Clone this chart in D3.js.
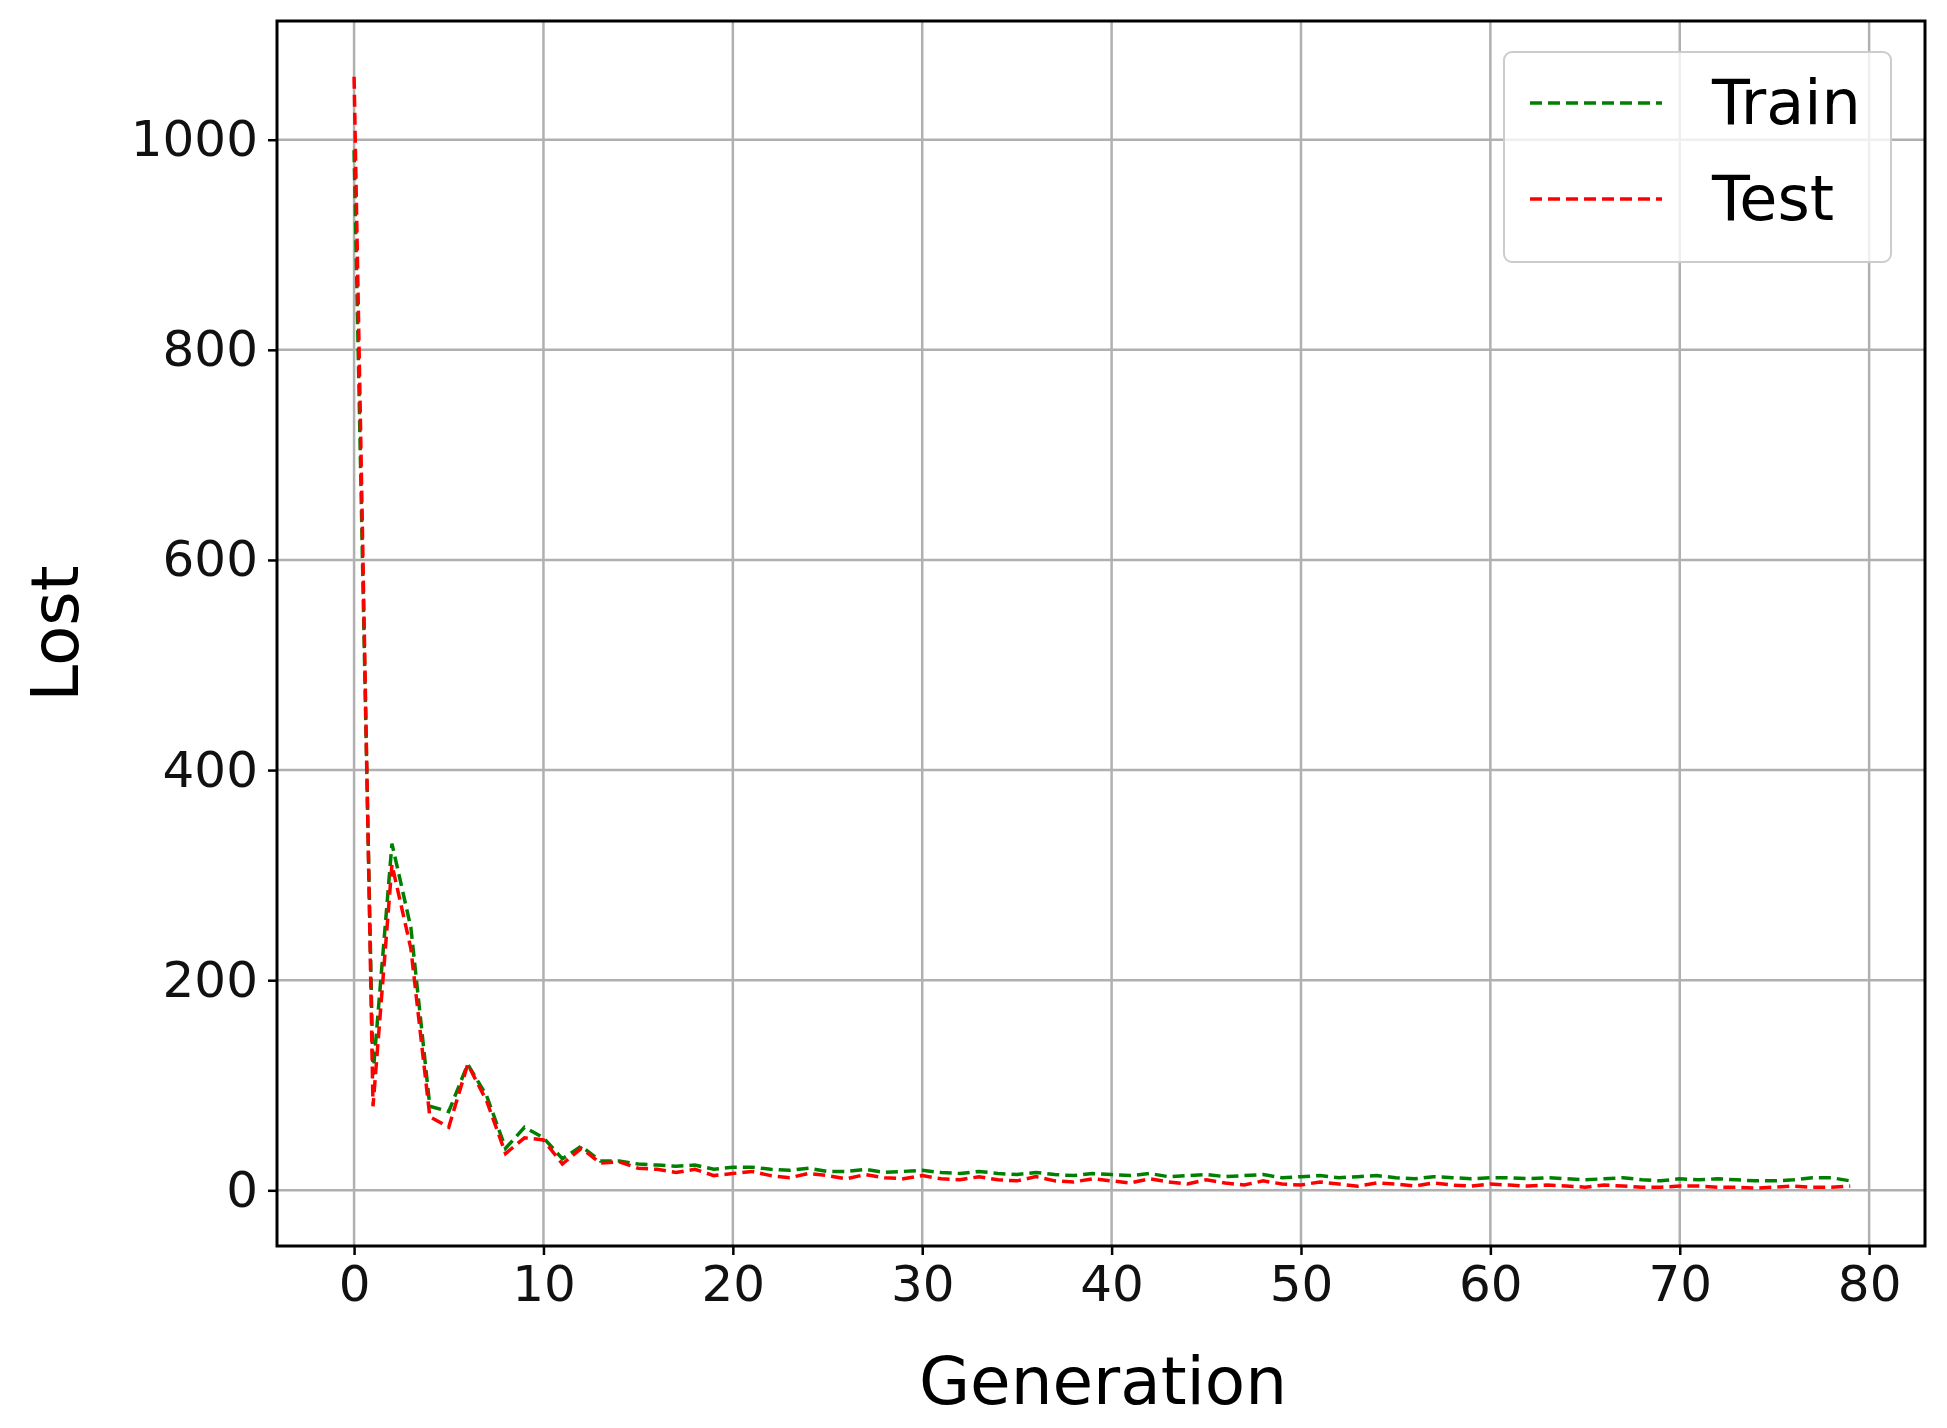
<!DOCTYPE html>
<html><head><meta charset="utf-8">
<script src="https://cdn.jsdelivr.net/npm/d3@7"></script>
<style>body{margin:0;background:#fff}text{font-family:"DejaVu Sans",sans-serif}</style>
</head><body>
<script>
// generation loss values
var train = [990,110,330,250,80,75,120,90,40,60,50,30,42,28,28,25,24,23,24,20,22,22,20,19,21,18,18,20,17,18,19,17,16,18,16,15,17,15,14,16,15,14,16,13,14,15,13,14,15,12,13,14,12,13,14,12,11,13,12,11,12,12,11,12,11,10,11,12,10,9,11,10,11,10,9,9,10,12,12,9];
var test = [1060,80,310,230,70,60,120,85,35,50,48,25,40,26,27,21,20,17,20,14,16,18,14,12,16,14,11,15,12,11,14,11,10,13,10,9,13,9,8,11,9,7,11,8,6,10,7,5,9,6,5,8,6,4,7,6,4,7,5,4,6,5,4,5,4,3,5,4,3,3,4,4,3,3,2,3,4,3,3,4];
var xTicks = [0,10,20,30,40,50,60,70,80];
var yTicks = [0,200,400,600,800,1000];
var series = [{name:"Train", values:train, color:"green"},{name:"Test", values:test, color:"red"}];

var W = 1947, H = 1428;
var m = {left:277, right:1925, top:21, bottom:1246};
var svg = d3.select("body").append("svg").attr("width", W).attr("height", H);

var x = d3.scaleLinear().domain([-4.07, 82.95]).range([m.left, m.right]);
var y = d3.scaleLinear().domain([-53, 1113]).range([m.bottom, m.top]);

// grid
svg.append("g").selectAll("line").data(xTicks).join("line")
	.attr("x1", d => x(d)).attr("x2", d => x(d)).attr("y1", m.top).attr("y2", m.bottom)
	.attr("stroke", "#b0b0b0").attr("stroke-width", 2.5);
svg.append("g").selectAll("line").data(yTicks).join("line")
	.attr("y1", d => y(d)).attr("y2", d => y(d)).attr("x1", m.left).attr("x2", m.right)
	.attr("stroke", "#b0b0b0").attr("stroke-width", 2.5);

// axes
var xa = svg.append("g").attr("transform", "translate(0," + m.bottom + ")")
	.call(d3.axisBottom(x).tickValues(xTicks).tickFormat(d3.format("d")).tickSize(9).tickPadding(10));
var ya = svg.append("g").attr("transform", "translate(" + m.left + ",0)")
	.call(d3.axisLeft(y).tickValues(yTicks).tickFormat(d3.format("d")).tickSize(9).tickPadding(10));
[xa, ya].forEach(function(a){
	a.select(".domain").remove();
	a.selectAll("line").attr("stroke", "#000").attr("stroke-width", 2.5);
	a.selectAll("text").attr("font-size", 50).attr("fill", "#111").style("font-family", "DejaVu Sans");
});

// lines
var line = d3.line().x((d, i) => x(i)).y(d => y(d));
series.forEach(function(s){
	svg.append("path").attr("d", line(s.values)).attr("fill", "none")
		.attr("stroke", s.color).attr("stroke-width", 3.5).attr("stroke-dasharray", "12,6");
});

// frame
svg.append("rect").attr("x", m.left).attr("y", m.top).attr("width", m.right - m.left).attr("height", m.bottom - m.top)
	.attr("fill", "none").attr("stroke", "#000").attr("stroke-width", 3);

// labels
svg.append("text").attr("x", (m.left + m.right) / 2 + 2).attr("y", 1404).attr("text-anchor", "middle")
	.attr("font-size", 66).text("Generation");
svg.append("text").attr("transform", "translate(78," + (m.top + m.bottom) / 2 + ") rotate(-90)")
	.attr("text-anchor", "middle").attr("font-size", 66).text("Lost");

// legend
var lg = svg.append("g");
lg.append("rect").attr("x", 1504).attr("y", 52).attr("width", 387).attr("height", 210).attr("rx", 8)
	.attr("fill", "#fff").attr("fill-opacity", 0.8).attr("stroke", "#ccc").attr("stroke-width", 2);
series.forEach(function(s, i){
	var yy = 103 + i * 96;
	lg.append("line").attr("x1", 1530).attr("x2", 1662).attr("y1", yy).attr("y2", yy)
		.attr("stroke", s.color).attr("stroke-width", 3.5).attr("stroke-dasharray", "12,6");
	lg.append("text").attr("x", 1712).attr("y", yy + 21).attr("font-size", 62).text(s.name);
});
</script>
</body></html>
